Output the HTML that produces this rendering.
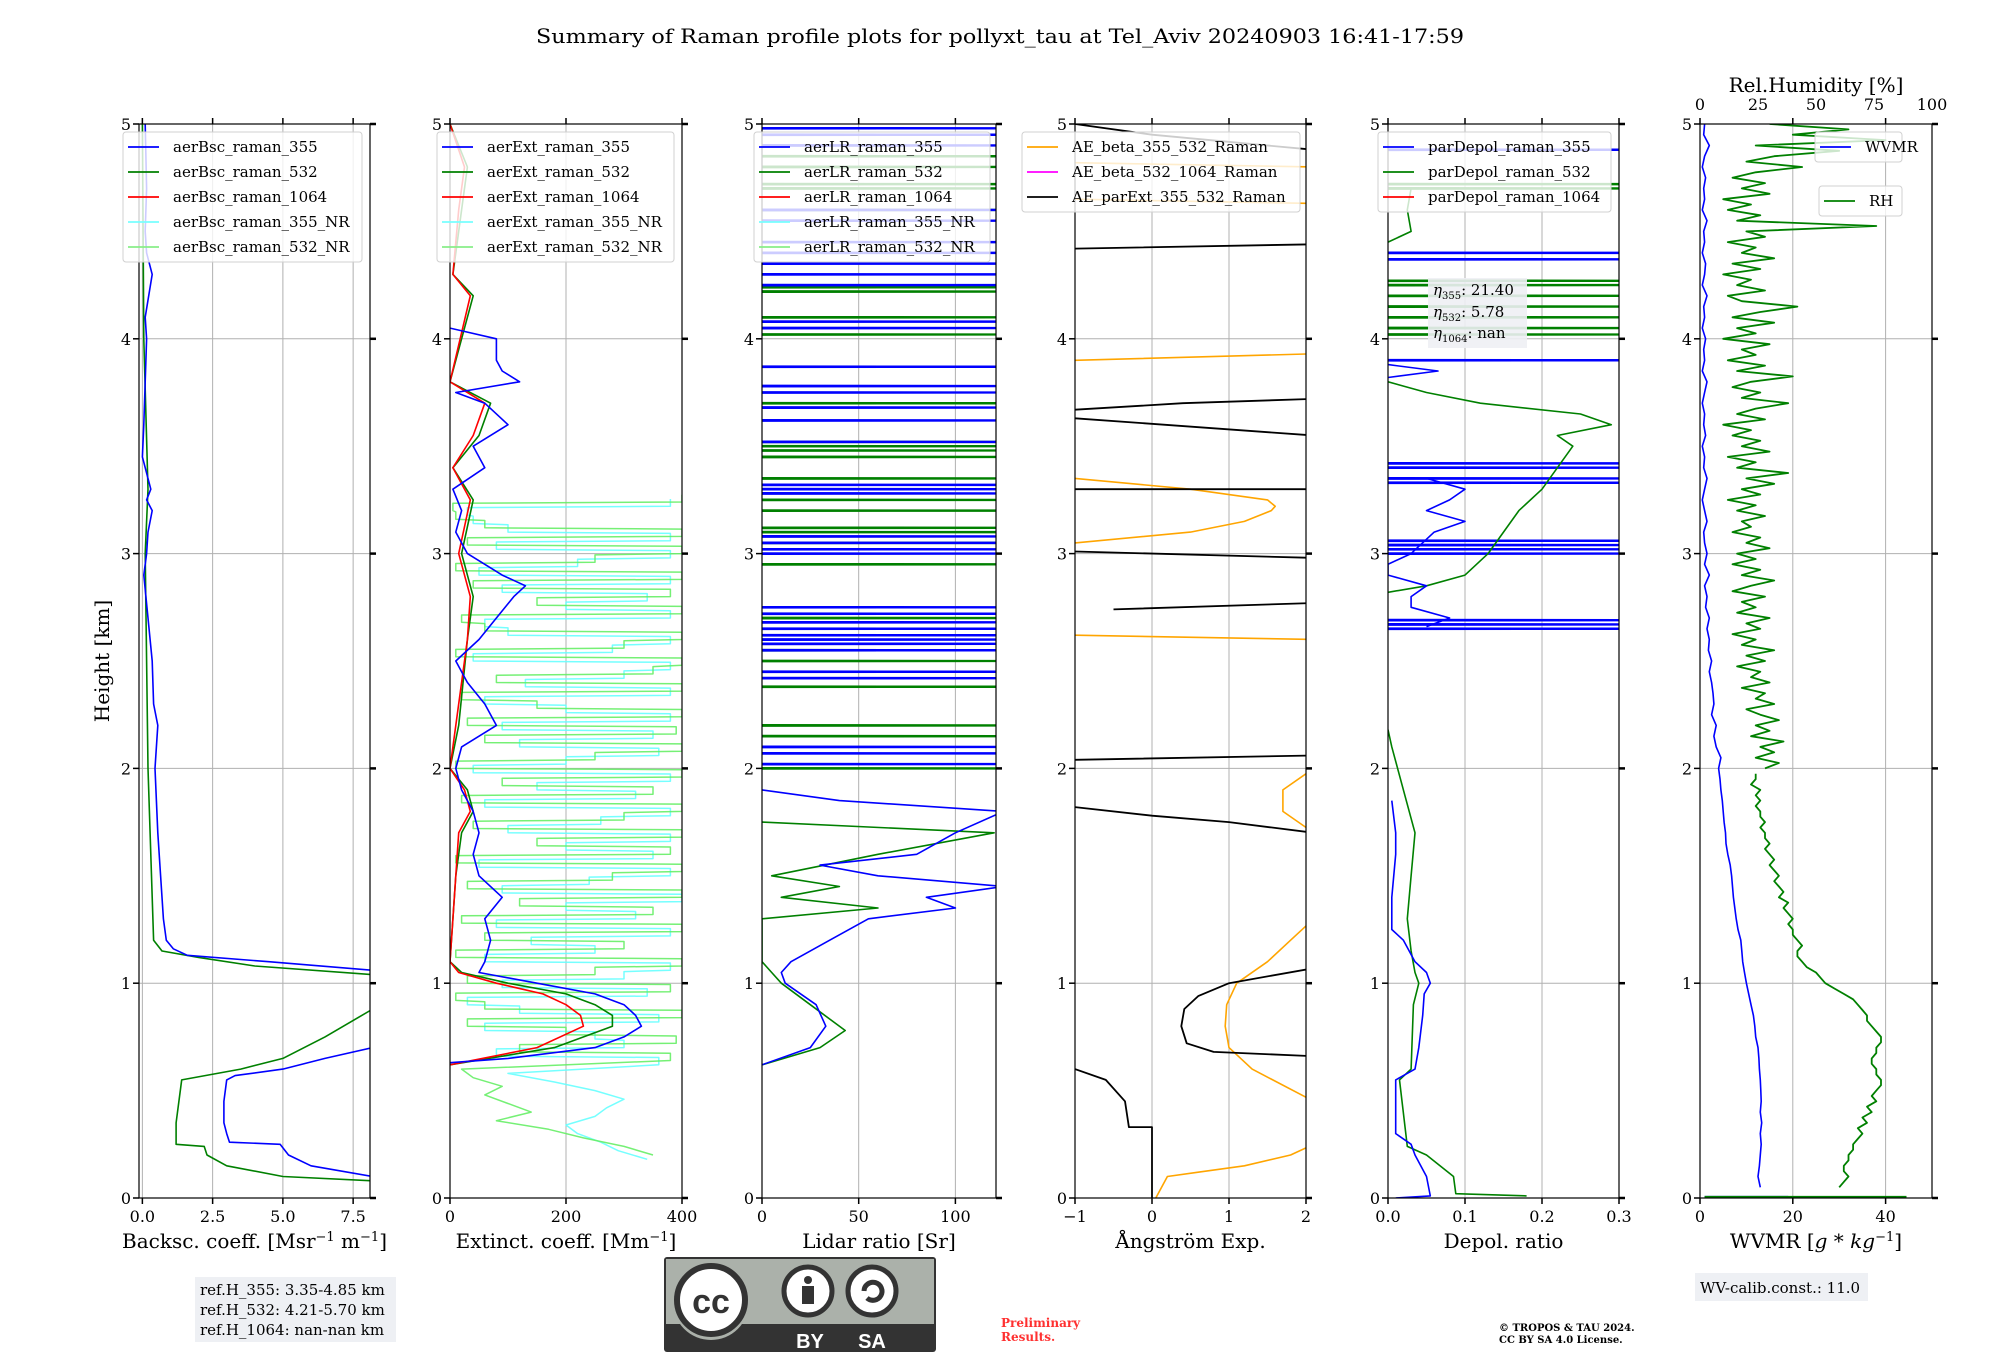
<!DOCTYPE html>
<html><head><meta charset="utf-8">
<style>
html,body{margin:0;padding:0;background:#fff;}
svg{display:block;font-family:"DejaVu Serif","Liberation Serif",serif;}
</style></head>
<body>
<svg id="fig" width="2000" height="1360" viewBox="0 0 2000 1360" xmlns="http://www.w3.org/2000/svg">
<rect x="0" y="0" width="2000" height="1360" fill="#fff"/>
<text x="1000" y="43" font-size="20" text-anchor="middle" textLength="928" lengthAdjust="spacingAndGlyphs">Summary of Raman profile plots for pollyxt_tau at Tel_Aviv 20240903 16:41-17:59</text>
<text transform="translate(109,661) rotate(-90)" font-size="20" text-anchor="middle">Height [km]</text>
<g id="plots"></g>
<g>
<rect x="195" y="1277" width="201" height="65" fill="#eef0f4"/>
<text x="200" y="1295" font-size="15">ref.H_355: 3.35-4.85 km</text>
<text x="200" y="1315" font-size="15">ref.H_532: 4.21-5.70 km</text>
<text x="200" y="1335" font-size="15">ref.H_1064: nan-nan km</text>
</g>
<g>
<rect x="1695" y="1273" width="173" height="28" fill="#eef0f4"/>
<text x="1700" y="1293" font-size="15">WV-calib.const.: 11.0</text>
</g>
<g>
<rect x="1428" y="278" width="99" height="70" fill="#eef0f4" opacity="0.9"/>
<text x="1433" y="295" font-size="15"><tspan font-style="italic">η</tspan><tspan font-size="10" dy="4">355</tspan><tspan dy="-4">: 21.40</tspan></text>
<text x="1433" y="317" font-size="15"><tspan font-style="italic">η</tspan><tspan font-size="10" dy="4">532</tspan><tspan dy="-4">: 5.78</tspan></text>
<text x="1433" y="338" font-size="15"><tspan font-style="italic">η</tspan><tspan font-size="10" dy="4">1064</tspan><tspan dy="-4">: nan</tspan></text>
</g>
<g>
<rect x="664" y="1257" width="272" height="95" rx="3" fill="#333"/>
<rect x="666" y="1259" width="268" height="65" fill="#abb1aa"/>
<circle cx="711" cy="1302" r="38" fill="#abb1aa"/>
<circle cx="711" cy="1300" r="34" fill="#fff" stroke="#333" stroke-width="6"/>
<text x="711" y="1313" font-family="Liberation Sans,sans-serif" font-weight="bold" font-size="34" text-anchor="middle" fill="#333">cc</text>
<circle cx="808" cy="1291" r="24" fill="#fff" stroke="#333" stroke-width="5"/>
<circle cx="808" cy="1280" r="4" fill="#333"/>
<rect x="802" y="1286" width="12" height="18" fill="#333"/>
<circle cx="872" cy="1291" r="24" fill="#fff" stroke="#333" stroke-width="5"/>
<path d="M864 1291 a9 9 0 1 1 3 7" fill="none" stroke="#333" stroke-width="5"/>
<text x="810" y="1348" font-family="Liberation Sans,sans-serif" font-weight="bold" font-size="20" text-anchor="middle" fill="#fff">BY</text>
<text x="872" y="1348" font-family="Liberation Sans,sans-serif" font-weight="bold" font-size="20" text-anchor="middle" fill="#fff">SA</text>
</g>
<text x="1001" y="1327" font-size="12" font-weight="bold" fill="#ff3030">Preliminary</text>
<text x="1001" y="1341" font-size="12" font-weight="bold" fill="#ff3030">Results.</text>
<text x="1499" y="1331" font-size="10" font-weight="bold">© TROPOS &amp; TAU 2024.</text>
<text x="1499" y="1343" font-size="10" font-weight="bold">CC BY SA 4.0 License.</text>
</svg>
<script>
// ---------- data ----------
const bsc355H=[0.10,0.15,0.20,0.25,0.26,0.30,0.35,0.45,0.55,0.57,0.60,0.65,0.70,null,1.06,1.10,1.13,1.16,1.20,1.30,1.50,1.70,2.00,2.20,2.30,2.50,2.70,2.90,3.00,3.10,3.20,3.25,3.30,3.45,3.60,3.80,4.00,4.10,4.30,4.40,4.50,4.70,5.00];
const bsc355V=[8.2,6.0,5.2,4.9,3.1,3.0,2.9,2.9,3.0,3.3,5.0,6.5,8.2,null,8.2,4.5,1.6,1.1,0.85,0.75,0.65,0.55,0.45,0.55,0.4,0.35,0.2,0.05,0.15,0.2,0.35,0.15,0.3,0.0,0.05,0.1,0.15,0.1,0.35,0.15,0.1,0.15,0.1];
const bsc532H=[0.08,0.10,0.15,0.20,0.24,0.25,0.35,0.55,0.60,0.65,0.75,0.88,null,1.04,1.08,1.12,1.15,1.20,1.40,2.00,3.00,3.30,4.00,5.00];
const bsc532V=[8.2,5.0,3.0,2.3,2.2,1.2,1.2,1.4,3.5,5.0,6.5,8.2,null,8.2,4.0,2.0,0.7,0.4,0.35,0.2,0.1,0.2,0.05,0.0];
const ext355H=[0.63,0.65,0.70,0.75,0.80,0.85,0.90,0.95,1.00,1.05,1.10,1.20,1.30,1.40,1.50,1.60,1.70,1.80,1.90,2.00,2.10,2.20,2.30,2.40,2.50,2.60,2.70,2.80,2.85,2.90,3.00,3.10,3.20,3.30,3.40,3.50,3.60,3.70,3.75,3.80,3.85,3.90,4.00,4.05];
const ext355V=[0,100,250,300,330,320,300,250,150,50,60,70,60,90,50,40,50,40,20,10,20,80,60,30,10,50,80,110,130,90,30,10,20,5,60,40,100,60,10,120,90,80,80,0];
const ext532H=[0.62,0.70,0.80,0.85,0.90,0.95,1.00,1.05,1.10,1.30,1.50,1.70,1.80,1.90,2.00,2.20,2.60,2.80,3.00,3.25,3.40,3.55,3.70,3.80,4.20,4.30,4.60,4.80,5.00];
const ext532V=[0,180,280,280,250,200,100,20,0,5,10,20,40,30,0,15,30,40,20,40,5,50,70,0,40,5,20,30,0];
const ext1064H=[0.62,0.70,0.80,0.85,0.90,0.95,1.00,1.05,1.10,1.30,1.50,1.70,1.80,1.90,2.00,2.20,2.60,2.80,3.00,3.25,3.40,3.55,3.70,3.80,4.20,4.30,4.60,4.80,5.00];
const ext1064V=[0,150,230,225,200,160,80,15,0,5,10,15,35,25,0,10,30,35,15,35,5,40,60,0,35,5,15,25,0];
const extNRH0=0.18, extNRStep=0.04;
const ext532NR=[350,300,230,170,80,140,100,60,90,40,20,380,120,390,200,30,400,60,10,380,30,250,400,10,300,60,400,20,350,120,400,30,280,400,10,380,150,400,40,300,400,20,350,90,400,10,250,400,60,390,30,400,150,20,400,80,350,400,10,300,400,60,20,400,150,380,40,400,10,250,400,30,400,60,10,5,400];
const ext355NR=[340,290,260,220,200,250,270,300,250,180,100,360,80,300,250,60,360,120,30,340,90,300,380,60,250,140,380,80,320,200,400,90,240,380,50,350,200,380,100,260,380,60,320,150,380,40,200,360,120,350,90,380,200,60,380,130,300,380,40,280,380,100,60,380,200,340,90,380,50,220,380,80,380,100,40,30,380];
const lr355H=[0.62,0.70,0.80,0.90,1.00,1.05,1.10,1.20,1.30,1.35,1.40,1.45,1.50,1.55,1.60,1.70,1.80,1.85,1.90];
const lr355V=[0,25,33,28,12,10,15,35,55,100,85,125,60,30,80,100,125,40,0];
const lr532H=[0.62,0.70,0.78,0.90,1.00,1.05,1.10,1.30,1.35,1.40,1.45,1.50,1.60,1.70,1.75];
const lr532V=[0,30,43,25,10,5,0,0,60,10,40,5,60,120,0];
const lr355Spikes=[2.02,2.07,2.10,2.42,2.45,2.55,2.58,2.60,2.62,2.65,2.68,2.72,2.75,3.00,3.02,3.05,3.08,3.28,3.30,3.32,3.52,3.62,3.68,3.75,3.78,3.87,4.05,4.08,4.25,4.30,4.35,4.40,4.45,4.55,4.60,4.90,4.95,4.98];
const lr532Spikes=[2.00,2.15,2.20,2.38,2.50,2.55,2.70,2.95,3.05,3.10,3.12,3.20,3.25,3.35,3.45,3.48,3.50,3.52,3.70,4.02,4.10,4.22,4.24,4.60,4.70,4.72,4.80,4.85];
const aeBetaH=[0.00,0.10,0.12,0.15,0.20,0.25,null,0.45,0.60,0.70,0.80,0.90,1.00,1.10,1.20,1.30,null,1.70,1.80,1.90,2.00,null,2.62,2.60,null,3.05,3.10,3.15,3.20,3.22,3.25,3.30,3.35,null,3.90,3.93,null,4.82,4.80,null,4.65,4.63];
const aeBetaV=[0.05,0.2,0.6,1.2,1.8,2.1,null,2.1,1.3,1.0,0.95,0.97,1.1,1.5,1.8,2.1,null,2.1,1.7,1.7,2.1,null,-1,2.1,null,-1,0.5,1.2,1.55,1.6,1.5,0.5,-1,null,-1,2.1,null,-1,2.1,null,-1,2.1];
const aeParExtH=[0.00,0.33,0.33,0.45,0.55,0.60,null,0.66,0.68,0.72,0.80,0.88,0.94,1.00,1.07,null,1.70,1.75,1.78,1.82,null,2.04,2.06,null,2.74,2.77,null,2.98,3.01,null,3.30,3.30,null,3.55,3.63,null,3.67,3.70,3.72,null,4.42,4.44,null,4.88,4.95,5.00];
const aeParExtV=[0,0,-0.3,-0.35,-0.6,-1,null,2.1,0.8,0.45,0.38,0.42,0.6,1.0,2.1,null,2.1,1.0,0.0,-1,null,-1,2.1,null,-0.5,2.1,null,2.1,-1,null,-1,2.1,null,2.1,-1,null,-1,0.4,2.1,null,-1,2.1,null,2.1,0.0,-1];
const dep355H=[0.00,0.01,0.10,0.20,0.25,0.30,0.55,0.57,0.60,0.70,0.85,0.95,1.00,1.05,1.10,1.20,1.25,1.40,1.60,1.70,1.85,null,2.66,2.70,2.75,2.80,2.85,2.90,2.95,3.00,3.10,3.15,3.20,3.25,3.30,3.35,null,3.82,3.85,3.88];
const dep355V=[0.01,0.055,0.05,0.035,0.03,0.01,0.01,0.02,0.035,0.04,0.045,0.047,0.055,0.05,0.035,0.02,0.005,0.005,0.01,0.01,0.005,null,0.05,0.08,0.03,0.03,0.05,0.0,0.0,0.03,0.06,0.1,0.05,0.08,0.1,0.05,null,0.0,0.065,0.0];
const dep532H=[0.01,0.02,0.10,0.20,0.24,0.55,0.60,0.90,1.00,1.05,1.15,1.30,1.50,1.70,1.90,2.10,2.18,null,2.82,2.85,2.90,3.00,3.10,3.20,3.30,3.40,3.50,3.55,3.60,3.65,3.70,3.75,3.80,null,4.45,4.50,4.60,4.70];
const dep532V=[0.18,0.088,0.085,0.05,0.025,0.015,0.03,0.033,0.04,0.035,0.03,0.025,0.03,0.035,0.02,0.005,0.0,null,0.0,0.05,0.1,0.13,0.15,0.17,0.2,0.22,0.24,0.22,0.29,0.25,0.12,0.05,0.0,null,0.0,0.03,0.025,0.03];
const dep355Spikes=[2.65,2.67,2.69,3.00,3.02,3.04,3.06,3.33,3.35,3.40,3.42,3.90,4.37,4.40,4.88];
const dep532Spikes=[4.02,4.05,4.10,4.15,4.20,4.25,4.27,4.70,4.72];
const wvH0=0.05, wvStep=0.05;
const wvmr=[13,12.5,12.8,13,13.2,13,13.3,13,13.2,13.1,13,12.8,12.7,12.5,12,11.8,11.5,11,10.5,10,9.6,9.2,9,8.8,8.2,7.8,7.5,7.2,7,6.8,6.5,6,5.6,5.5,5.2,5,4.8,4.5,4.3,4,4.5,3.5,3,3.5,2.5,3,2.8,2.5,2,2.5,1.8,2,1.5,2,1.2,1.5,1,2,1,1.5,1,0.8,1.5,1,0.5,1,1.5,0.8,1,0.5,1.2,0.8,1,0.5,1,1.5,0.5,1,0.8,1.2,0.5,1,0.8,1.5,0.5,1,1.2,0.5,1,0.8,1.5,0.5,1,0.8,1.2,0.5,1,2,0.8,1];
const rhLowH0=0.05, rhLowStep=0.025;
const rhLow=[30,31,32,31,31,32,32,33,33,34,35,34,36,35,37,36,38,37,38,39,39,38,38,37,37,38,38,39,39,38,37,36,36,35,34,33,31,29,27,26,25,23,22,21,21,22,21,20,20,19,20,19,18,19,17,18,17,16,17,16,15,16,15,14,15,14,14,13,14,13,13,12,13,12,13,11,12,12];
const rhHighH0=2.0, rhHighStep=0.025;
const rhHigh=[14,17,12,16,13,18,11,15,12,17,13,10,16,12,14,9,15,11,13,8,14,10,16,9,12,7,13,10,15,8,12,9,14,7,11,16,9,13,7,12,8,15,10,13,7,11,9,14,8,12,6,13,9,16,10,19,8,12,6,15,9,13,7,11,5,14,8,12,19,9,13,7,11,20,8,14,6,12,9,15,5,12,8,16,7,13,21,9,6,14,8,11,5,13,7,16,9,12,6,14,10,38,8,13,6,11,5,15,9,14,7,12,22,10,16,30,12,40,20,32,15];

// ---------- drawing ----------
const NS='http://www.w3.org/2000/svg';
const root=document.getElementById('plots');
const Y0=1198, Y1=124;
function yS(h){return Y0+(Y1-Y0)*h/5;}
function el(tag,attrs,parent){const e=document.createElementNS(NS,tag);for(const k in attrs)e.setAttribute(k,attrs[k]);(parent||root).appendChild(e);return e;}
let clipN=0;
function panel(name,x0,x1,xmin,xmax,ticks,labels,xlabel){
  const g=el('g',{});
  
  
  const xS=v=>x0+(x1-x0)*(v-xmin)/(xmax-xmin);
  const id='clip'+(clipN++);
  const cp=el('clipPath',{id:id},g);el('rect',{x:x0,y:Y1,width:x1-x0,height:Y0-Y1},cp);
  ticks.forEach(t=>{const l=el('line',{x1:xS(t),x2:xS(t),y1:Y1,y2:Y0,stroke:'#b0b0b0','stroke-width':1},g);});
  for(let h=0;h<=5;h++){const l=el('line',{x1:x0,x2:x1,y1:yS(h),y2:yS(h),stroke:'#b0b0b0','stroke-width':1},g);}
  const data=el('g',{'clip-path':'url(#'+id+')'},g);
  ticks.forEach((t,i)=>{
    el('line',{x1:xS(t),x2:xS(t),y1:Y0,y2:Y0+6,stroke:'#000','stroke-width':1.5},g);
    el('line',{x1:xS(t),x2:xS(t),y1:Y1,y2:Y1-6,stroke:'#000','stroke-width':1.5},g);
    const tx=el('text',{x:xS(t),y:Y0+24,'font-size':16,'text-anchor':'middle'},g);tx.textContent=labels[i];
    
    
  });
  for(let h=0;h<=5;h++){
    el('line',{x1:x0-6,x2:x0,y1:yS(h),y2:yS(h),stroke:'#000','stroke-width':1.5},g);
    el('line',{x1:x1,x2:x1+6,y1:yS(h),y2:yS(h),stroke:'#000','stroke-width':2.5},g);
    const tx=el('text',{x:x0-8,y:yS(h)+6,'font-size':16,'text-anchor':'end'},g);tx.textContent=String(h);
    
    
  }
  el('rect',{x:x0,y:Y1,width:x1-x0,height:Y0-Y1,fill:'none',stroke:'#000','stroke-width':1.2},g);
  if(xlabel){const t=el('text',{x:(x0+x1)/2,y:Y0+50,'font-size':20,'text-anchor':'middle'},g);t.innerHTML=xlabel;
    
    }
  return {g,data,xS};
}
function line(P,H,V,color,w,nm,op){
  let d='',pen=false;
  for(let i=0;i<H.length;i++){
    if(H[i]===null||V[i]===null){pen=false;continue;}
    d+=(pen?'L':'M')+P.xS(V[i]).toFixed(1)+' '+yS(H[i]).toFixed(1);pen=true;
  }
  const p=el('path',{d:d,fill:'none',stroke:color,'stroke-width':w||1.6,'stroke-linejoin':'round','stroke-opacity':op||1},P.data);
  
  
}
function stepLine(P,h0,step,V,color,w,nm,op){
  const H=V.map((v,i)=>h0+step*i);line(P,H,V,color,w,nm,op);
}
// stepped (streaky) profile: curve below hSwitch, horizontal jumps above
function streakLine(P,h0,step,V,color,w,nm,op,hSwitch){
  const H=[],VV=[];
  V.forEach((v,i)=>{const h=h0+step*i;
    if(h<hSwitch){H.push(h);VV.push(v);}
    else{H.push(h,h+step*0.85);VV.push(v,v);} });
  line(P,H,VV,color,w,nm,op);
}
function spikes(P,S,base,top,color,nm){
  const H=[],V=[];S.forEach(h=>{H.push(h-0.003,h,h+0.003,null);V.push(base,top,base,null);});
  line(P,H,V,color,1.5,nm);
}
function legend(x,y,w,entries,g){
  const lg=el('g',{},g);
  
  
  el('rect',{x:x,y:y,width:w,height:entries.length*25+5,rx:3,fill:'#fff','fill-opacity':0.8,stroke:'#d0d0d0'},lg);
  entries.forEach((e,i)=>{
    const yy=y+15+i*25;
    const ln=el('line',{x1:x+5,x2:x+36,y1:yy,y2:yy,stroke:e[1],'stroke-width':1.8},lg);
    
    
    const t=el('text',{x:x+50,y:yy+5,'font-size':15},lg);t.textContent=e[0];
    
    
  });
}
// Panel 1
const P1=panel('backscatter',139,370,-0.12,8.1,[0,2.5,5,7.5],['0.0','2.5','5.0','7.5'],'Backsc. coeff. [Msr<tspan dy="-7" font-size="13">−1</tspan><tspan dy="7"> m</tspan><tspan dy="-7" font-size="13">−1</tspan><tspan dy="7">]</tspan>');
line(P1,bsc532H,bsc532V,'green',1.6,'bsc-532-line');
line(P1,bsc355H,bsc355V,'blue',1.6,'bsc-355-line');
legend(123,132,239,[['aerBsc_raman_355','blue'],['aerBsc_raman_532','green'],['aerBsc_raman_1064','red'],['aerBsc_raman_355_NR','#7ff'],['aerBsc_raman_532_NR','#8e8']],P1.g);
// Panel 2
const P2=panel('extinction',450,682,0,400,[0,200,400],['0','200','400'],'Extinct. coeff. [Mm<tspan dy="-7" font-size="13">−1</tspan><tspan dy="7">]</tspan>');
streakLine(P2,extNRH0,extNRStep,ext355NR,'#6ff',1.5,'ext-355-nr-line',0.9,0.62);
streakLine(P2,extNRH0+0.02,extNRStep,ext532NR,'#6e6',1.5,'ext-532-nr-line',0.9,0.62);
line(P2,ext532H,ext532V,'green',1.6,'ext-532-line');
line(P2,ext1064H,ext1064V,'red',1.6,'ext-1064-line');
line(P2,ext355H,ext355V,'blue',1.6,'ext-355-line');
legend(437,132,237,[['aerExt_raman_355','blue'],['aerExt_raman_532','green'],['aerExt_raman_1064','red'],['aerExt_raman_355_NR','#7ff'],['aerExt_raman_532_NR','#8e8']],P2.g);
// Panel 3
const P3=panel('lidar-ratio',762,996,0,121,[0,50,100],['0','50','100'],'Lidar ratio [Sr]');
spikes(P3,lr532Spikes,0,400,'green','lr-532-spikes');
spikes(P3,lr355Spikes,0,400,'blue','lr-355-spikes');
line(P3,lr532H,lr532V,'green',1.6,'lr-532-line');
line(P3,lr355H,lr355V,'blue',1.6,'lr-355-line');
legend(754,132,236,[['aerLR_raman_355','blue'],['aerLR_raman_532','green'],['aerLR_raman_1064','red'],['aerLR_raman_355_NR','#7ff'],['aerLR_raman_532_NR','#8e8']],P3.g);
// Panel 4
const P4=panel('angstrom',1075,1306,-1,2,[-1,0,1,2],['−1','0','1','2'],'Ångström Exp.');
line(P4,aeBetaH,aeBetaV,'orange',1.6,'ae-beta-355-532-line');
line(P4,aeParExtH,aeParExtV,'black',1.8,'ae-parext-355-532-line');
legend(1022,132,278,[['AE_beta_355_532_Raman','orange'],['AE_beta_532_1064_Raman','magenta'],['AE_parExt_355_532_Raman','black']],P4.g);
// Panel 5
const P5=panel('depolarization',1388,1619,0,0.3,[0,0.1,0.2,0.3],['0.0','0.1','0.2','0.3'],'Depol. ratio');
spikes(P5,dep532Spikes,0,1,'green','depol-532-spikes');
spikes(P5,dep355Spikes,0,1,'blue','depol-355-spikes');
line(P5,dep532H,dep532V,'green',1.6,'depol-532-line');
line(P5,dep355H,dep355V,'blue',1.6,'depol-355-line');
legend(1378,132,233,[['parDepol_raman_355','blue'],['parDepol_raman_532','green'],['parDepol_raman_1064','red']],P5.g);
// Panel 6
const P6=panel('water-vapor',1700,1932,0,50,[0,20,40],['0','20','40'],'WVMR [<tspan font-style="italic">g</tspan> * <tspan font-style="italic">kg</tspan><tspan dy="-7" font-size="13">−1</tspan><tspan dy="7">]</tspan>');
line(P6,[0.005,0.005],[1,19],'blue',2,'wvmr-ground-line');
line(P6,[0.005,0.005],[1,44.5],'green',2,'rh-ground-line');
stepLine(P6,rhLowH0,rhLowStep,rhLow,'green',1.8,'rh-line-low');
stepLine(P6,rhHighH0,rhHighStep,rhHigh,'green',1.8,'rh-line-high');
stepLine(P6,wvH0,wvStep,wvmr,'blue',1.6,'wvmr-line');
[0,25,50,75,100].forEach(v=>{
  const x=1700+232*v/100;
  const t=el('text',{x:x,y:110,'font-size':16,'text-anchor':'middle'},P6.g);t.textContent=String(v);
  
  
});
const rhT=el('text',{x:1816,y:92,'font-size':20,'text-anchor':'middle'},P6.g);rhT.textContent='Rel.Humidity [%]';


legend(1815,132,87,[['WVMR','blue']],P6.g);
legend(1819,186,83,[['RH','green']],P6.g);
</script>
</body></html>
